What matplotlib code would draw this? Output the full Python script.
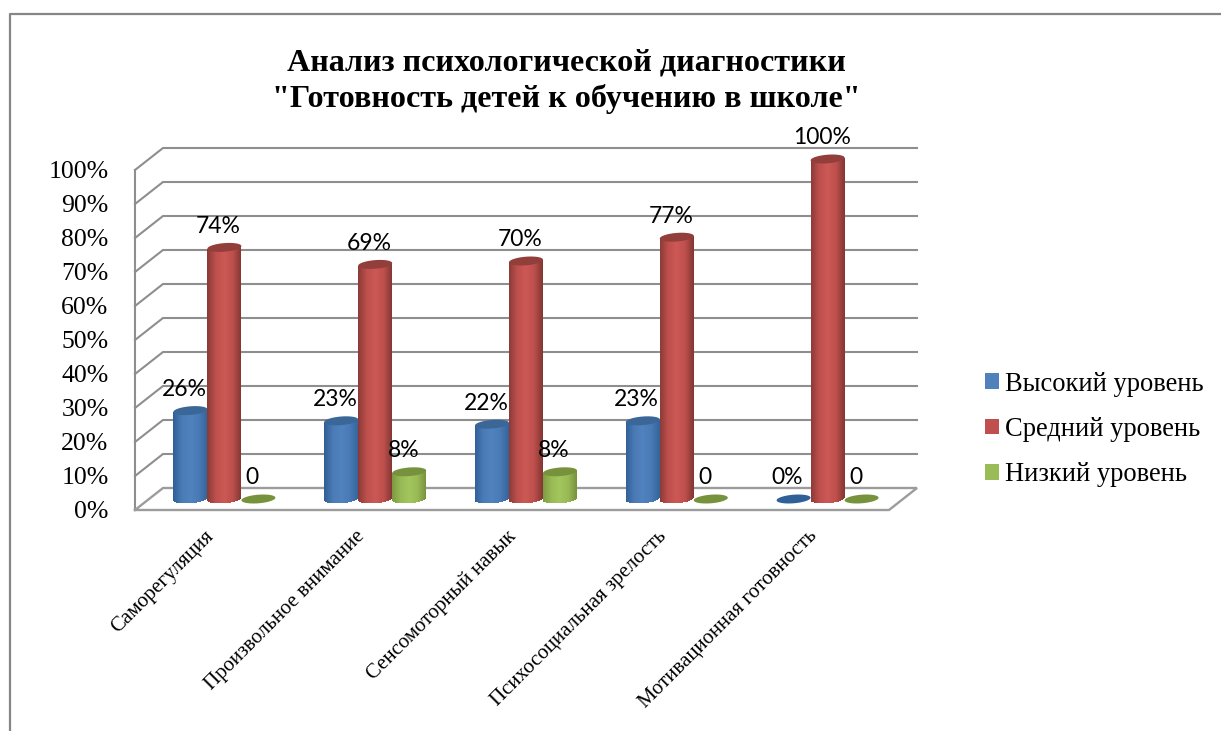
import numpy as np
import matplotlib
matplotlib.use("Agg")
import matplotlib.pyplot as plt
from matplotlib.colors import LinearSegmentedColormap
from matplotlib.lines import Line2D
from matplotlib.patches import Patch

title = 'Анализ психологической диагностики\n"Готовность детей к обучению в школе"'
categories = ["Саморегуляция", "Произвольное внимание", "Сенсомоторный навык",
              "Психосоциальная зрелость", "Мотивационная готовность"]
series_names = ["Высокий уровень", "Средний уровень", "Низкий уровень"]
high = [26, 23, 22, 23, 0]
middle = [74, 69, 70, 77, 100]
low = [0, 8, 8, 0, 0]
high_labels = ["26%", "23%", "22%", "23%", "0%"]
middle_labels = ["74%", "69%", "70%", "77%", "100%"]
low_labels = ["0", "8%", "8%", "0", "0"]
y_ticks = [0, 10, 20, 30, 40, 50, 60, 70, 80, 90, 100]

W, H = 1221, 731
SERIF = "Liberation Serif"
GREY = "#8e8e8e"

fig = plt.figure(figsize=(W / 100, H / 100), dpi=100)
ax = fig.add_axes([135 / W, (H - 510) / H, 754 / W, 340 / H])
ax.set_xlim(-0.5, 4.5)
ax.set_ylim(0, 100)
ax.patch.set_alpha(0)
for s in ax.spines.values():
    s.set_visible(False)

# sizes in px turned into data units
px_x = 5 / 754
px_y = 100 / 340
dx, dy = 28 * px_x, 22 * px_y
bar_w = 34 * px_x
semi_x, semi_y, slant = bar_w / 2, 4.3 * px_y, 1.3 * px_y
x0, x1 = ax.get_xlim()

# back wall and side wall lines
for v in y_ticks[1:]:
    ax.plot([x0, x0 + dx, x1 + dx], [v, v + dy, v + dy], color=GREY, lw=1.5,
            clip_on=False, zorder=1, solid_joinstyle="miter")
ax.plot([x0, x0], [0, 100], color=GREY, lw=1.5, clip_on=False, zorder=1)
# floor
ax.plot([x0, x0 + dx, x1 + dx, x1, x0], [0, dy, dy, 0, 0], color="#9c9c9c", lw=1.7,
        clip_on=False, zorder=1, solid_joinstyle="miter")


def cap(cx, cy, color, z):
    t = np.linspace(0, 2 * np.pi, 60)
    ax.fill(cx + semi_x * np.cos(t), cy + semi_y * np.sin(t) + slant * np.cos(t),
            color=color, lw=0, clip_on=False, zorder=z)


def cylinder(cx, value, cm, top_color, z):
    base = dy / 2
    if value == 0:
        cap(cx, base, top_color, z)
        return
    n = 68
    for k in range(n):
        u = (k + 0.5) / n * 2 - 1
        curve = semi_y * np.sqrt(1 - u * u)
        ax.bar(cx + u * semi_x, value + curve, width=bar_w / n * 1.2,
               bottom=base - curve + slant * u, color=cm((u + 1) / 2), lw=0,
               clip_on=False, zorder=z)
    cap(cx, base + value, top_color, z + 0.5)


maps = [
    LinearSegmentedColormap.from_list("b", ["#2f5f95", "#4a7ab5", "#4f82be", "#4a7ab5", "#33649b"]),
    LinearSegmentedColormap.from_list("r", ["#8a3a37", "#bd4f4c", "#cc5855", "#bd4f4c", "#823633"]),
    LinearSegmentedColormap.from_list("g", ["#7c9a40", "#98b955", "#a3c55d", "#98b955", "#76923c"]),
]
top_colors = ["#3a6798", "#923e3b", "#76923c"]
flat_colors = ["#2f6097", "#923e3b", "#76923c"]
legend_colors = ["#4f81bd", "#c0504d", "#9bbb59"]
values = [high, middle, low]
labels = [high_labels, middle_labels, low_labels]

for i in range(len(categories)):
    for j in range(3):
        cx = i + (j - 1) * bar_w + dx / 2
        v = values[j][i]
        cylinder(cx, v, maps[j], flat_colors[j] if v == 0 else top_colors[j], 3 + j)
        ax.annotate(labels[j][i], (cx, v + dy / 2), xytext=(-6, 21), textcoords="offset pixels",
                    ha="center", va="center", fontsize=16.5, family="Lato", color="black",
                    annotation_clip=False, zorder=10)

ax.set_yticks(y_ticks)
ax.set_yticklabels([f"{v}%" for v in y_ticks], family=SERIF, fontsize=18.5)
ax.tick_params(axis="y", length=0, pad=19)
# labels end a little left of the category centre
ax.set_xticks([i - 6 * px_x for i in range(len(categories))])
ax.set_xticklabels(categories, family=SERIF, fontsize=15, rotation=45, ha="right",
                   va="top", rotation_mode="anchor")
ax.tick_params(axis="x", length=0, pad=12)

fig.text(566 / W, 1 - 81 / H, title, family=SERIF, fontweight="bold", fontsize=23.1,
         ha="center", va="center", linespacing=1.3)

handles = [Patch(color=c, lw=0) for c in legend_colors]
fig.legend(handles, series_names, loc="center left", bbox_to_anchor=(961 / W, 1 - 429.5 / H),
           frameon=False, prop={"family": SERIF, "size": 19.1}, handlelength=0.53,
           handleheight=0.53, handletextpad=0.23, labelspacing=0.765)

# outer frame of the picture, only top and left show
fig.add_artist(Line2D([10 / W, 10 / W, 1], [0, 1 - 14 / H, 1 - 14 / H], color="#868686", lw=1.6))

fig.savefig("out.png", dpi=100)
